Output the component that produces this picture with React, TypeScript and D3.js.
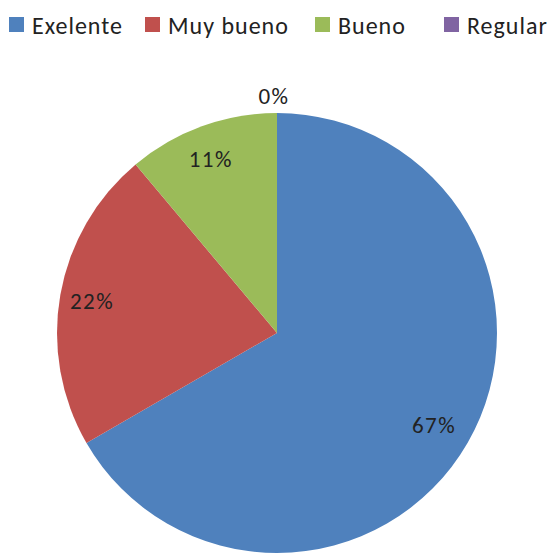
import React from 'react';
import * as d3 from 'd3';

const categories = ['Exelente', 'Muy bueno', 'Bueno', 'Regular'];
const values = [6, 2, 1, 0];
const labels = ['67%', '22%', '11%', '0%'];
const colors = ['#4F81BD', '#C0504D', '#9BBB59', '#8064A2'];

const W = 554;
const H = 554;
const cx = 277;
const cy = 333;
const R = 220;

// legend x positions of each swatch
const legendX = [9, 145, 315, 444];

export default function App() {
  const pie = d3.pie<number>().sort(null).value(d => d);
  const arcs = pie(values);
  const arc = d3.arc<d3.PieArcDatum<number>>().innerRadius(0).outerRadius(R);
  const labelArc = d3.arc<d3.PieArcDatum<number>>().innerRadius(R * 0.84).outerRadius(R * 0.84);
  const outerArc = d3.arc<d3.PieArcDatum<number>>().innerRadius(R + 17).outerRadius(R + 17);

  const font = 'Carlito, "Open Sans", "Liberation Sans", sans-serif';

  return (
    <svg width={W} height={H} style={{ position: 'absolute', left: 0, top: 0 }}>
      <rect width={W} height={H} fill="#fff" />
      <g transform={`translate(${cx},${cy})`}>
        {arcs.map((a, i) => (
          <path key={i} d={arc(a) || ''} fill={colors[i]} />
        ))}
        {arcs.map((a, i) => {
          const [x, y] = a.value === 0 ? outerArc.centroid(a) : labelArc.centroid(a);
          return (
            <text key={i} x={x - 3} y={y} textAnchor="middle" dominantBaseline="central"
              fontFamily={font} fontSize={23} letterSpacing={1.5} fill="#222">
              {labels[i]}
            </text>
          );
        })}
      </g>
      <g>
        {categories.map((c, i) => (
          <g key={c} transform={`translate(${legendX[i]},17)`}>
            <rect width={15} height={15} fill={colors[i]} />
            <text x={23} y={8} dominantBaseline="central" fontFamily={font} fontSize={24}
              letterSpacing={1} fill="#222">
              {c}
            </text>
          </g>
        ))}
      </g>
    </svg>
  );
}
